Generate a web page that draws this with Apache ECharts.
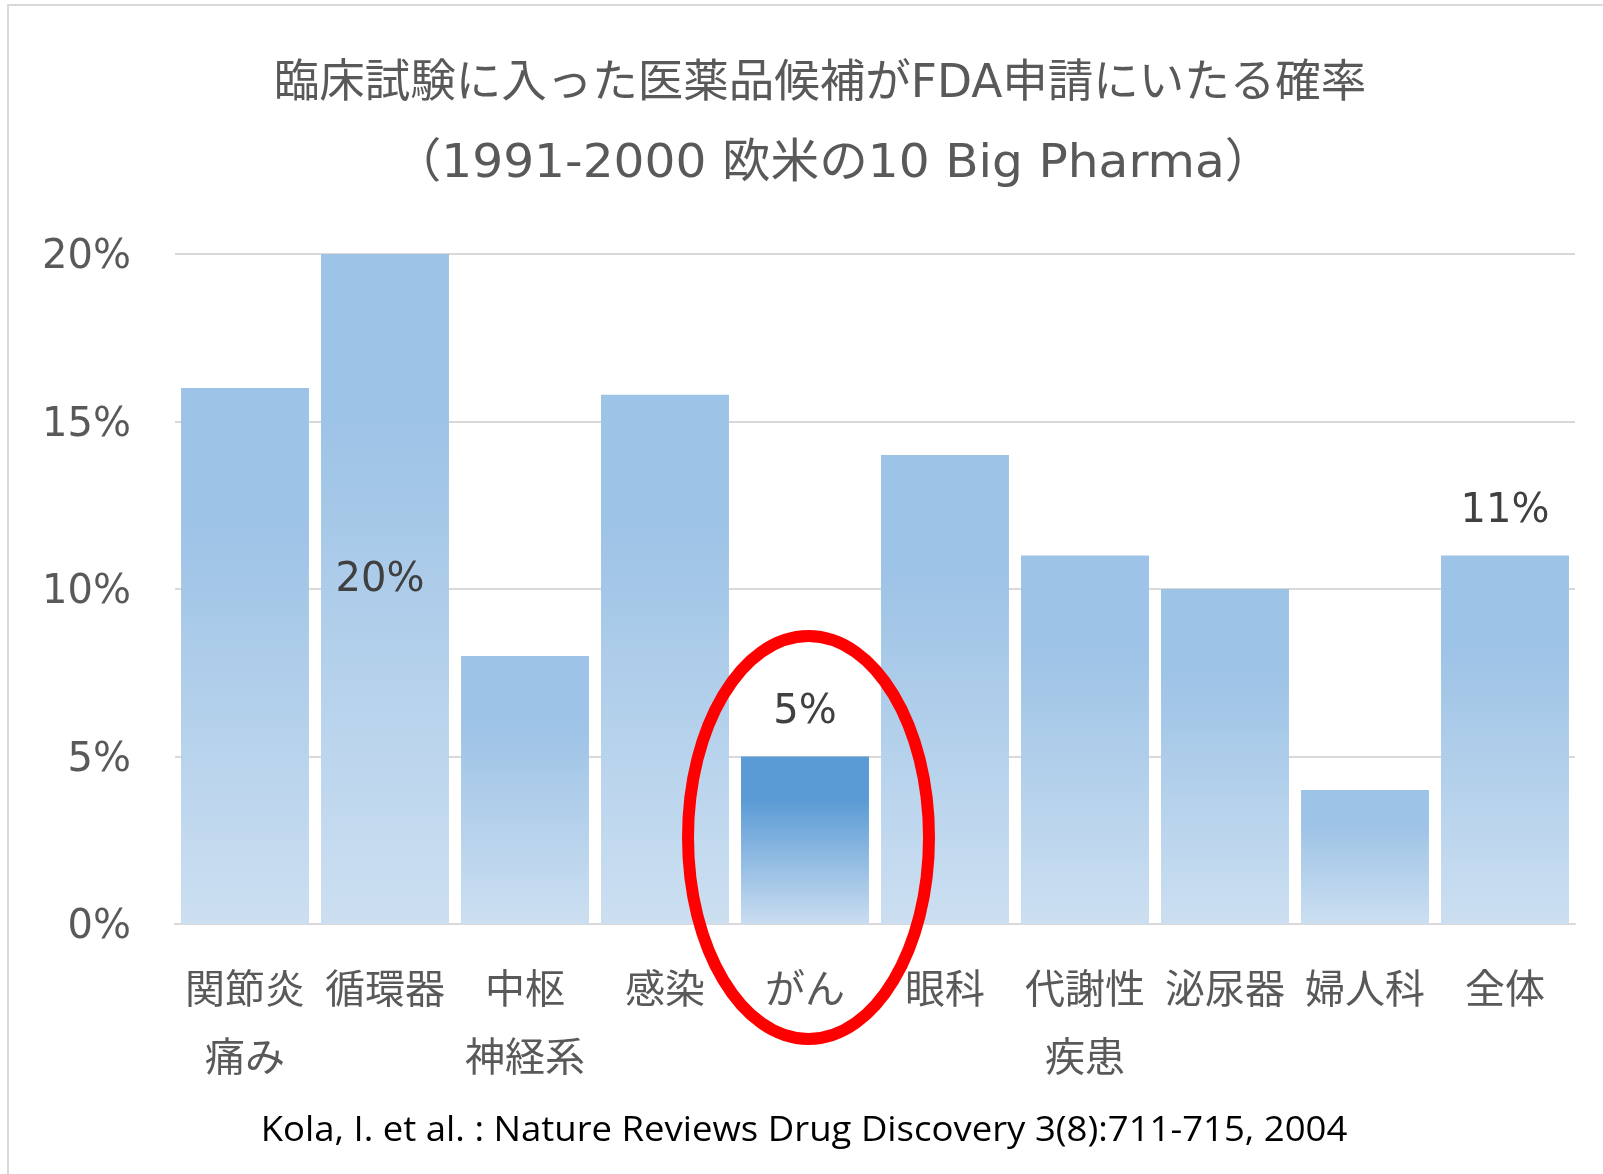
<!DOCTYPE html>
<html>
<head>
<meta charset="utf-8">
<script src="https://cdn.jsdelivr.net/npm/echarts@6/dist/echarts.min.js"></script>
<style>
html,body{margin:0;padding:0;background:#fff;}
#chart{width:1603px;height:1174px;}
</style>
</head>
<body>
<div id="chart"></div>
<script>
// ---- data ----
const categories = ['関節炎\n痛み', '循環器', '中枢\n神経系', '感染', 'がん', '眼科', '代謝性\n疾患', '泌尿器', '婦人科', '全体'];
const values = [16, 20, 8, 15.8, 5, 14, 11, 10, 4, 11];
const labeledIndexes = [1, 4, 9];        // bars that carry a value label
const highlightIndex = 4;                // がん
const yTicks = [0, 5, 10, 15, 20];
const titleLine1 = '臨床試験に入った医薬品候補がFDA申請にいたる確率';
const titleLine2 = '（1991-2000 欧米の10 Big Pharma）';
const sourceNote = 'Kola, I. et al. : Nature Reviews Drug Discovery 3(8):711-715, 2004';

const FONT = "'DejaVu Sans', 'Noto Sans CJK JP', sans-serif";
const CJK = "'Noto Sans CJK JP', 'DejaVu Sans', sans-serif";

function grad(top, bottom, solid) {
  return new echarts.graphic.LinearGradient(0, 0, 0, 1, [
    {offset: 0, color: top},
    {offset: solid, color: top},
    {offset: 1, color: bottom}
  ]);
}

const seriesData = values.map((v, i) => {
  const item = {
    value: v,
    itemStyle: {
      color: i === highlightIndex
        ? grad('#5B9BD5', '#CADDF1', 0.26)
        : grad('#9DC3E6', '#CCDFF1', 0.25)
    }
  };
  if (labeledIndexes.includes(i)) {
    item.label = {show: true};
    if (i === 1) {
      item.label.position = 'inside';
      item.label.offset = [-5, -8];
    } else {
      item.label.position = 'top';
      item.label.distance = 24;
    }
  }
  return item;
});

const chart = echarts.init(document.getElementById('chart'), null, {renderer: 'canvas'});
chart.setOption({
  animation: false,
  backgroundColor: '#ffffff',
  grid: {left: 175, right: 28, top: 254, bottom: 250, containLabel: false},
  xAxis: {
    type: 'category',
    data: categories,
    axisTick: {show: false},
    axisLine: {show: true, lineStyle: {color: '#D9D9D9', width: 2}},
    axisLabel: {
      interval: 0,
      margin: 30,
      fontSize: 40,
      lineHeight: 68,
      color: '#595959',
      fontFamily: CJK
    }
  },
  yAxis: {
    type: 'value',
    min: yTicks[0],
    max: yTicks[yTicks.length - 1],
    interval: yTicks[1] - yTicks[0],
    axisLine: {show: false},
    axisTick: {show: false},
    splitLine: {lineStyle: {color: '#D9D9D9', width: 2}},
    axisLabel: {
      margin: 44,
      fontSize: 40,
      color: '#595959',
      fontFamily: FONT,
      verticalAlign: 'top',
      lineHeight: 8,
      formatter: v => v + '%'
    }
  },
  series: [{
    type: 'bar',
    data: seriesData,
    barCategoryGap: '8.6%',
    label: {
      show: false,
      fontSize: 40,
      color: '#404040',
      fontFamily: FONT,
      formatter: p => p.value + '%'
    }
  }],
  graphic: [
    {
      type: 'rect', z: -10, silent: true,
      shape: {x: 8, y: 5, width: 1700, height: 1300},
      style: {fill: null, stroke: '#D9D9D9', lineWidth: 2}
    },
    {
      type: 'text', x: 820, y: 85, silent: true,
      style: {text: titleLine1, font: "45.5px " + FONT, fill: '#595959', textAlign: 'center', textVerticalAlign: 'middle'}
    },
    {
      type: 'text', x: 833, y: 165, silent: true, scaleX: 1.035,
      style: {text: titleLine2, font: "47px " + FONT, fill: '#595959', textAlign: 'center', textVerticalAlign: 'middle'}
    },
    {
      type: 'text', x: 804, y: 1131, silent: true, scaleX: 1.074,
      style: {text: sourceNote, font: "34px 'Open Sans', 'Noto Sans', sans-serif", fill: '#000000', textAlign: 'center', textVerticalAlign: 'middle'}
    },
    {
      type: 'ellipse', z: 100, silent: true,
      shape: {cx: 808.5, cy: 837.5, rx: 120.5, ry: 201.5},
      style: {fill: null, stroke: '#FF0000', lineWidth: 12}
    }
  ]
});
</script>
</body>
</html>
